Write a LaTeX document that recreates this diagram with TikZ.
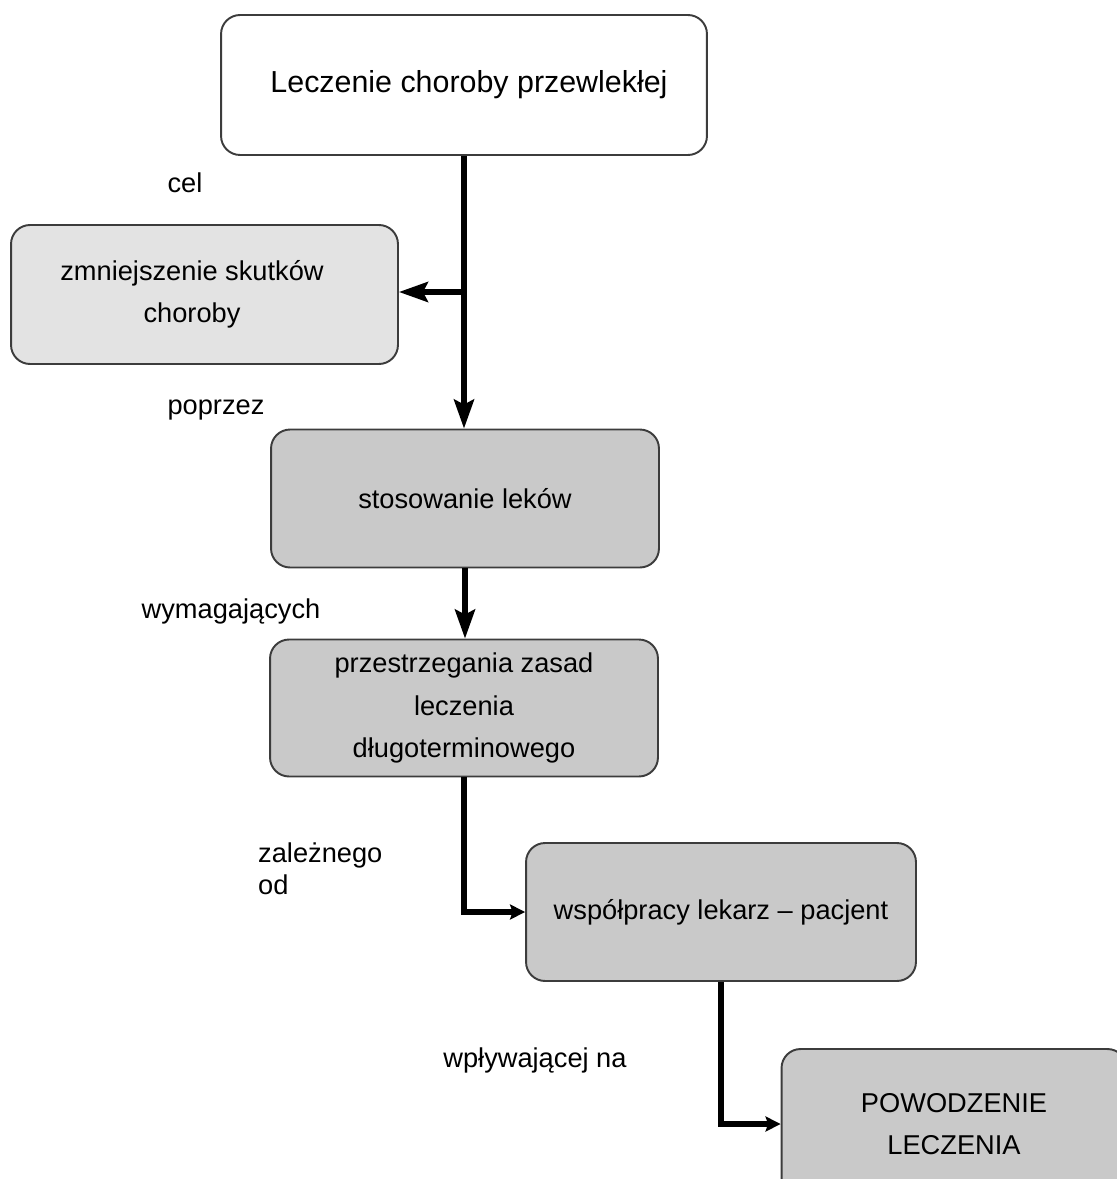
\documentclass[tikz,border=0pt]{standalone}
\usepackage{fontspec}
\setmainfont{Liberation Sans}
\usetikzlibrary{arrows.meta}
\definecolor{boxlight}{HTML}{E3E3E3}
\definecolor{boxdark}{HTML}{C9C9C9}
\definecolor{boxline}{HTML}{3C3C3C}
\begin{document}
\begin{tikzpicture}[x=0.02cm, y=-0.02cm,
  box/.style={draw=boxline, line width=1.1pt, rounded corners=0.38cm, align=center, inner sep=0pt, font=\fontsize{15.5}{24}\selectfont},
  flow/.style={line width=3.1pt, -{Stealth[length=0.58cm,width=0.4cm,inset=0.1cm]}},
  flowsmall/.style={line width=3.1pt, -{Stealth[length=0.3cm,width=0.3cm,inset=0.05cm]}},
  lbl/.style={font=\fontsize{15.5}{18}\selectfont}]
\useasboundingbox (0,0) rectangle (1116,1179);
\node[box,fill=white,minimum width=9.72cm,minimum height=2.8cm,font=\fontsize{17.3}{20}\selectfont] (start) at (464,85) {\hspace*{0.2cm}Leczenie choroby przewlekłej};
\node[box,fill=boxlight,minimum width=7.74cm,minimum height=2.78cm] (goal) at (204.5,294.5) {zmniejszenie skutków\hspace*{0.5cm}\\choroby\hspace*{0.5cm}};
\node[box,fill=boxdark,minimum width=7.76cm,minimum height=2.76cm] (drugs) at (465,498.5) {stosowanie leków};
\node[box,fill=boxdark,minimum width=7.76cm,minimum height=2.74cm] (rules) at (464,708) {przestrzegania zasad\\leczenia\\długoterminowego};
\node[box,fill=boxdark,minimum width=7.8cm,minimum height=2.76cm] (coop) at (721,912) {współpracy lekarz – pacjent};
\node[box,fill=boxdark,minimum width=6.9cm,minimum height=3.0cm] (success) at (954,1124) {POWODZENIE\\LECZENIA};
% labels on the flow
\node[lbl] (aim) at (185,183) {cel};
\node[lbl] (through) at (216,410) {poprzez};
\node[lbl] (requiring) at (231,611) {wymagających};
\node[lbl,align=left,anchor=west] (depending) at (252,869) {zależnego\\od};
\node[lbl] (affecting) at (535,1060) {wpływającej na};
% connectors
\coordinate (fork) at (464,292);
\draw[flow] (start.south) -- (start.south |- drugs.north);
\draw[flow] (fork) -- (fork -| goal.east);
\draw[flow] (drugs.south) -- (drugs.south |- rules.north);
\draw[flowsmall] (rules.south) |- (coop.west);
\draw[flowsmall] (coop.south) |- (success.west);
\end{tikzpicture}
\end{document}
